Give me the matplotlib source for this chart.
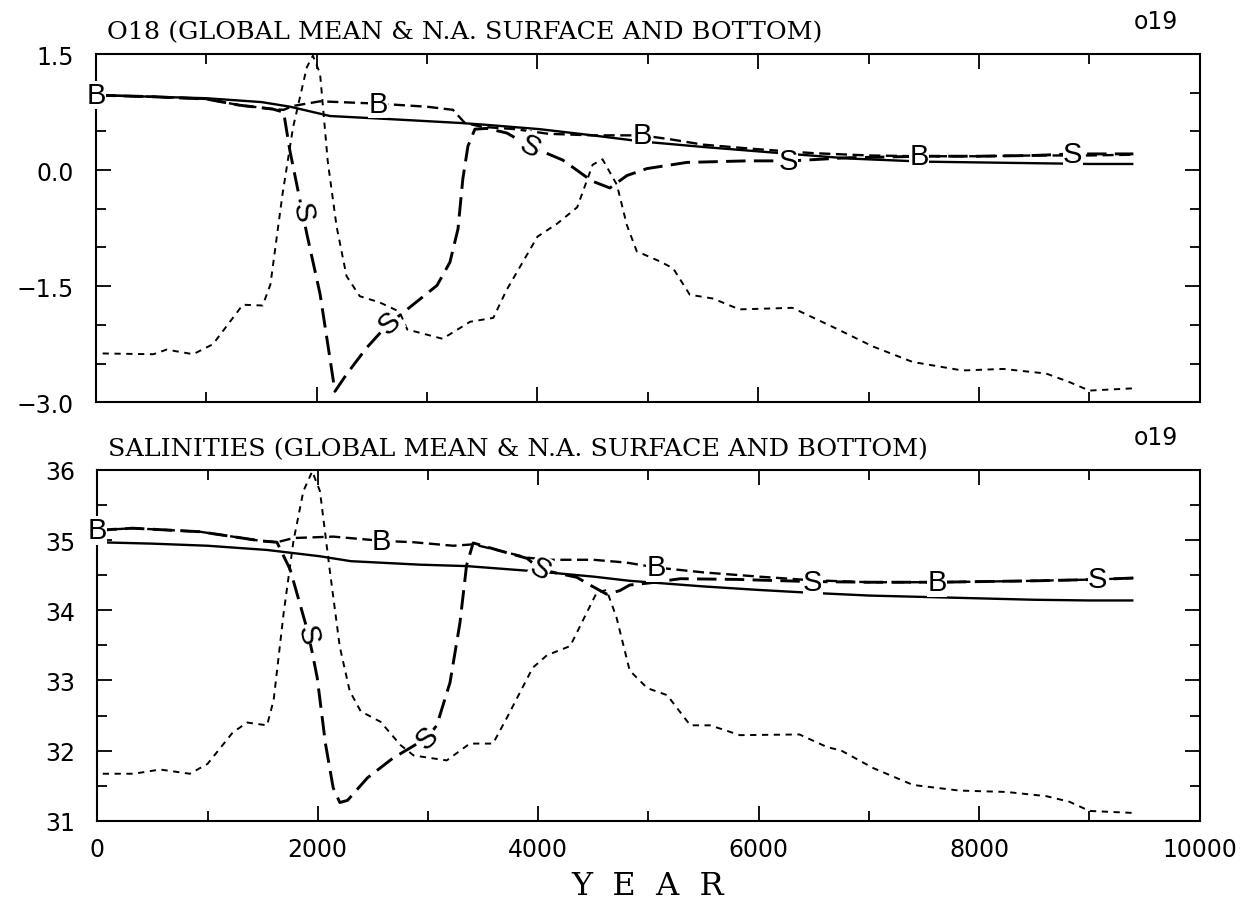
import numpy as np
import matplotlib
matplotlib.use("Agg")
import matplotlib.pyplot as plt
from matplotlib.ticker import MultipleLocator

plt.rcParams['lines.scale_dashes'] = False

# ---------------------------------------------
# O18 panel: global mean, N.A. bottom, N.A. surface, N.A. forcing
# ---------------------------------------------
yr_mean_o = [0, 500, 1000, 1500, 1760, 2120, 2660, 3300, 3500, 4020, 4500, 4950,
             5500, 6290, 6830, 7500, 8000, 8500, 9000, 9400]
o18_mean = [0.97, 0.95, 0.93, 0.88, 0.82, 0.70, 0.66, 0.61, 0.59, 0.53, 0.45, 0.37,
            0.30, 0.21, 0.15, 0.11, 0.10, 0.09, 0.08, 0.08]

yr_bot_o = [0, 500, 1000, 1300, 1600, 1700, 1785, 2030, 2555, 3000, 3234, 3342, 3500,
            3800, 4100, 4500, 4946, 5200, 5500, 6000, 6500, 7000, 7460, 8000, 8500,
            9000, 9400]
o18_bottom = [0.97, 0.95, 0.92, 0.84, 0.79, 0.78, 0.83, 0.89, 0.86, 0.82, 0.78, 0.61,
              0.56, 0.53, 0.47, 0.45, 0.45, 0.40, 0.33, 0.27, 0.22, 0.19, 0.18, 0.18,
              0.19, 0.19, 0.20]

yr_surf_o = [0, 500, 1000, 1300, 1600, 1700, 1757, 1911, 2030, 2100, 2165, 2270, 2450,
             2660, 2750, 3090, 3207, 3280, 3324, 3370, 3433, 3542, 3723, 3931, 4230,
             4493, 4656, 4810, 4991, 5353, 5897, 6300, 6800, 7500, 8000, 8500, 8850, 9400]
o18_surface = [0.97, 0.95, 0.92, 0.84, 0.79, 0.75, 0.25, -0.83, -1.60, -2.25, -2.86,
               -2.64, -2.30, -1.97, -1.88, -1.49, -1.19, -0.76, -0.11, 0.31, 0.53, 0.54,
               0.48, 0.31, 0.13, -0.14, -0.23, -0.07, 0.02, 0.10, 0.12, 0.12, 0.16,
               0.18, 0.18, 0.19, 0.21, 0.21]

yr_force_o = [60, 520, 640, 880, 1060, 1330, 1510, 1580, 1690, 1785, 1910, 1965, 2030,
              2100, 2180, 2270, 2390, 2570, 2750, 2820, 3140, 3390, 3600, 3720, 4000,
              4180, 4360, 4500, 4590, 4720, 4810, 4900, 5110, 5230, 5380, 5590, 5830,
              6310, 6710, 7040, 7400, 7850, 8220, 8610, 8820, 9000, 9410]
o18_forcing = [-2.37, -2.38, -2.32, -2.38, -2.25, -1.74, -1.75, -1.48, -0.31, 0.55,
               1.33, 1.48, 1.25, 0.11, -0.73, -1.37, -1.63, -1.71, -1.83, -2.06, -2.18,
               -1.96, -1.91, -1.55, -0.86, -0.69, -0.48, 0.07, 0.14, -0.19, -0.71,
               -1.05, -1.18, -1.27, -1.61, -1.66, -1.80, -1.78, -2.05, -2.28, -2.48,
               -2.59, -2.57, -2.63, -2.74, -2.85, -2.82]

o18_b_at = [0, 2555, 4946, 7460]
o18_s_at = [1870, 2660, 3931, 6270, 8850]

# ---------------------------------------------
# Salinity panel
# ---------------------------------------------
yr_mean_s = [0, 500, 1000, 1540, 2020, 2300, 2930, 3350, 4020, 4500, 4830, 5500, 6000,
             6460, 7000, 7500, 8000, 8500, 9000, 9400]
sal_mean = [34.97, 34.95, 34.92, 34.86, 34.77, 34.70, 34.65, 34.63, 34.55, 34.48,
            34.42, 34.34, 34.29, 34.25, 34.21, 34.19, 34.17, 34.15, 34.14, 34.14]

yr_bot_s = [0, 320, 930, 1230, 1480, 1630, 1780, 2140, 2580, 2870, 3230, 3410, 3650,
            3900, 4100, 4500, 4800, 5070, 5500, 6000, 6460, 7000, 7620, 8500, 9080, 9400]
sal_bottom = [35.14, 35.17, 35.12, 35.05, 34.99, 34.97, 35.03, 35.05, 34.99, 34.97,
              34.92, 34.94, 34.85, 34.75, 34.72, 34.72, 34.68, 34.61, 34.54, 34.48,
              34.43, 34.40, 34.40, 34.42, 34.44, 34.46]

yr_surf_s = [0, 320, 930, 1230, 1480, 1630, 1750, 1900, 1950, 1995, 2070, 2140, 2200,
             2270, 2450, 2680, 2990, 3080, 3200, 3290, 3350, 3410, 3650, 3900, 4020,
             4350, 4470, 4620, 4740, 4830, 5010, 5290, 5800, 6460, 7000, 7620, 8500,
             9080, 9400]
sal_surface = [35.14, 35.17, 35.12, 35.05, 34.99, 34.97, 34.58, 33.75, 33.40, 33.04,
               32.10, 31.47, 31.26, 31.29, 31.61, 31.89, 32.18, 32.36, 32.97, 33.82,
               34.64, 34.96, 34.85, 34.74, 34.58, 34.47, 34.36, 34.23, 34.28, 34.36,
               34.39, 34.45, 34.44, 34.41, 34.40, 34.40, 34.42, 34.44, 34.46]

yr_force_s = [50, 330, 570, 840, 1000, 1230, 1360, 1540, 1600, 1690, 1780, 1870, 1950,
              2020, 2110, 2200, 2290, 2390, 2570, 2750, 2870, 3170, 3380, 3590, 3720,
              3950, 4080, 4290, 4410, 4530, 4620, 4710, 4830, 4990, 5170, 5380, 5560,
              5830, 6370, 6620, 6750, 7040, 7400, 7820, 8250, 8610, 8820, 9000, 9410]
sal_forcing = [31.67, 31.67, 31.73, 31.67, 31.81, 32.26, 32.40, 32.36, 32.72, 33.95,
               34.99, 35.70, 35.98, 35.70, 34.56, 33.48, 32.85, 32.56, 32.41, 32.08,
               31.93, 31.86, 32.10, 32.10, 32.48, 33.18, 33.36, 33.49, 33.87, 34.25,
               34.29, 33.90, 33.14, 32.89, 32.79, 32.36, 32.36, 32.22, 32.23, 32.05,
               32.00, 31.75, 31.51, 31.43, 31.41, 31.35, 31.27, 31.14, 31.11]

sal_b_at = [0, 2580, 5070, 7620]
sal_s_at = [1913, 2992, 4016, 6490, 9075]

year_ticks = [0, 2000, 4000, 6000, 8000, 10000]

SANS = 'DejaVu Sans'
SERIF = 'DejaVu Serif'


def tag_line(ax, xs, ys, where, letter):
    # put a letter on a curve, turned along the local slope
    for x in where:
        y = np.interp(x, xs, ys)
        p1 = ax.transData.transform((x - 40, np.interp(x - 40, xs, ys)))
        p2 = ax.transData.transform((x + 40, np.interp(x + 40, xs, ys)))
        ang = np.degrees(np.arctan2(p2[1] - p1[1], p2[0] - p1[0]))
        if abs(ang) < 8:
            ang = 0
        ax.text(x, y, letter, rotation=ang, rotation_mode='anchor',
                ha='center', va='center', fontsize=21, family='Liberation Sans',
                clip_on=False, zorder=5,
                bbox=dict(fc='white', ec='none', pad=0.2))


def draw_panel(ax, curves, ylim, major, labels_x):
    (xm, ym), (xb, yb), (xs, ys), (xf, yf) = curves
    ax.plot(xm, ym, color='black', lw=1.7, solid_capstyle='butt')
    ax.plot(xb, yb, color='black', lw=1.7, dashes=(8, 4))
    ax.plot(xs, ys, color='black', lw=2.1, dashes=(14, 6))
    ax.plot(xf, yf, color='black', lw=1.4, dashes=(4.5, 4))
    ax.set_xlim(0, 10000)
    ax.set_ylim(*ylim)
    ax.xaxis.set_major_locator(MultipleLocator(2000))
    ax.xaxis.set_minor_locator(MultipleLocator(1000))
    ax.yaxis.set_major_locator(MultipleLocator(major))
    ax.yaxis.set_minor_locator(MultipleLocator(0.5))
    ax.tick_params(which='both', direction='in', top=True, right=True, width=1.3,
                   colors='black')
    ax.tick_params(which='major', length=11)
    ax.tick_params(which='minor', length=7)
    ax.tick_params(axis='y', which='major', pad=16, labelsize=17)
    ax.tick_params(axis='x', which='major', pad=12, labelsize=17)
    for sp in ax.spines.values():
        sp.set_linewidth(1.5)
    if not labels_x:
        ax.set_xticklabels([])


plt.rcParams['font.family'] = [SANS]

fig = plt.figure(figsize=(12.47, 9.04), dpi=100)
ax1 = fig.add_axes([0.077, 0.554, 0.885, 0.385])
ax2 = fig.add_axes([0.078, 0.091, 0.884, 0.388])

draw_panel(ax1, [(yr_mean_o, o18_mean), (yr_bot_o, o18_bottom),
                 (yr_surf_o, o18_surface), (yr_force_o, o18_forcing)],
           (-3.0, 1.5), 1.5, False)
ax1.set_yticks([-3.0, -1.5, 0.0, 1.5])
ax1.set_yticklabels(['\u22123.0', '\u22121.5', '0.0', '1.5'])

draw_panel(ax2, [(yr_mean_s, sal_mean), (yr_bot_s, sal_bottom),
                 (yr_surf_s, sal_surface), (yr_force_s, sal_forcing)],
           (31, 36), 1, True)
ax2.set_xticks(year_ticks)
ax2.set_xticklabels([str(v) for v in year_ticks])

tag_line(ax1, yr_bot_o, o18_bottom, o18_b_at, 'B')
tag_line(ax1, yr_surf_o, o18_surface, o18_s_at, 'S')
tag_line(ax2, yr_bot_s, sal_bottom, sal_b_at, 'B')
tag_line(ax2, yr_surf_s, sal_surface, sal_s_at, 'S')

fig.text(0.086, 0.9635, 'O18 (GLOBAL MEAN & N.A. SURFACE AND BOTTOM)',
         family=SERIF, fontsize=18.3, va='center', ha='left')
fig.text(0.945, 0.976, 'o19', family=SANS, fontsize=17, va='center', ha='right')
fig.text(0.0866, 0.502, 'SALINITIES (GLOBAL MEAN & N.A. SURFACE AND BOTTOM)',
         family=SERIF, fontsize=18.3, va='center', ha='left')
fig.text(0.945, 0.5155, 'o19', family=SANS, fontsize=17, va='center', ha='right')
fig.text(0.519, 0.019, 'Y  E  A  R', family=SERIF, fontsize=23, va='center',
         ha='center')

fig.savefig('out.png', dpi=100, facecolor='white')
